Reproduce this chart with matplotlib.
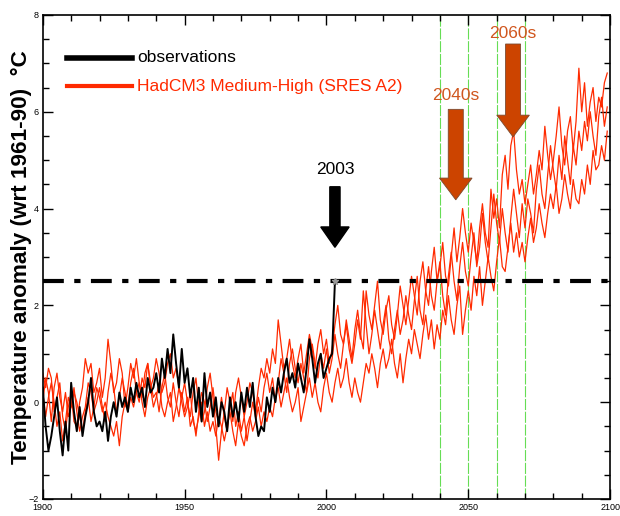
import matplotlib
matplotlib.use("Agg")
import matplotlib.pyplot as plt
from matplotlib.ticker import MultipleLocator

plt.rcParams['font.family'] = ['Liberation Sans', 'DejaVu Sans']

# observed annual anomalies 1900-2003
obs_years = list(range(1900, 2004))
obs_temp = [0.3, -0.5, -1.0, -0.7, -0.3, 0.1, -0.6, -1.1, -0.4, -1.0,
            0.4, -0.2, -0.6, -0.1, -0.7, -0.3, 0.0, 0.5, -0.2, -0.5,
            -0.4, -0.6, -0.2, -0.8, -0.3, 0.0, -0.3, 0.2, -0.1, 0.1,
            -0.2, 0.3, 0.0, 0.4, 0.1, 0.3, -0.1, 0.5, 0.2, 0.3,
            0.6, 0.2, 0.9, 0.5, 1.1, 0.6, 1.4, 0.8, 0.3, 1.1,
            0.4, 0.7, 0.1, 0.5, -0.2, 0.3, -0.4, 0.6, -0.1, 0.2,
            -0.3, 0.1, -0.5, 0.0, -0.2, -0.6, 0.1, -0.3, 0.0, -0.4,
            0.2, -0.2, 0.3, -0.1, 0.4, -0.3, -0.7, -0.5, -0.6, 0.1,
            -0.2, 0.3, 0.0, 0.5, 0.2, 0.6, 0.9, 0.4, 0.6, 0.3,
            0.8, 0.5, 0.2, 0.7, 1.3, 0.9, 0.4, 0.8, 1.0, 0.5,
            0.7, 0.9, 1.0, 2.5]

# HadCM3 ensemble members 1900-2099
model_years = list(range(1900, 2100))
model_a = [0.6, 0.3, 0.7, 0.5, -0.2, 0.1, 0.4, -0.3, -0.6, -0.1,
           0.2, -0.4, -0.5, 0.0, 0.3, 0.9, 0.6, 0.8, 0.2, 0.4,
           0.7, 0.1, 0.5, 1.3, 0.8, 0.2, 0.4, 0.9, 0.6, -0.1,
           0.3, 0.8, 0.5, 0.9, 0.4, 0.1, 0.6, 0.8, 0.3, 0.5,
           0.9, 0.6, 0.2, 0.4, 0.8, 1.0, 0.5, 0.7, 0.3, 0.1,
           0.4, 0.0, -0.3, 0.2, 0.5, -0.1, -0.4, -0.2, 0.3, 0.6,
           0.1, -0.5, -1.2, -0.6, -0.2, 0.3, 0.0, -0.4, 0.2, 0.5,
           0.1, -0.3, 0.0, 0.4, 0.2, -0.2, 0.3, 0.7, 0.5, 0.9,
           0.6, 1.1, 0.8, 1.7, 1.2, 0.7, 0.9, 1.3, 0.8, 0.5,
           0.9, 1.2, 0.6, 1.0, 1.4, 1.1, 0.7, 1.2, 1.5, 1.0,
           1.3, 0.8, 1.1, 1.6, 2.0, 1.4, 1.2, 1.7, 1.3, 0.9,
           1.5, 1.9, 1.4, 1.1, 2.3, 1.8, 1.5, 2.0, 2.5, 1.7,
           1.4, 1.9, 2.2, 1.6, 1.3, 1.8, 2.4, 2.0, 1.6, 2.1,
           2.6, 2.2, 1.8, 2.5, 2.9, 2.3, 2.0, 2.7, 3.2, 2.5,
           2.8, 3.3, 2.6, 2.4, 3.0, 3.6, 2.9, 3.4, 4.0, 3.5,
           3.1, 3.7, 3.3, 2.9, 3.6, 4.1, 3.5, 3.2, 4.4, 3.8,
           4.2, 3.6, 4.7, 5.1, 4.4, 5.3, 5.6, 4.8, 4.3, 4.6,
           4.1, 4.5, 4.9, 4.3, 4.7, 5.2, 4.8, 5.7, 5.1, 4.6,
           5.0, 5.5, 6.1, 5.3, 4.9, 5.6, 5.9, 5.2, 5.8, 6.9,
           6.0, 6.6, 5.7, 6.2, 6.5, 5.8, 6.3, 6.1, 6.6, 6.8]
model_b = [0.2, -0.3, 0.1, 0.4, 0.0, -0.5, -0.2, -0.8, -0.4, 0.1,
           -0.1, 0.3, -0.2, -0.6, -0.3, -0.1, 0.4, 0.2, -0.2, 0.0,
           0.3, -0.1, -0.4, 0.2, 0.6, 0.3, -0.2, 0.1, 0.5, 0.2,
           -0.1, 0.4, 0.7, 0.2, 0.0, 0.5, 0.3, 0.8, 0.4, 0.1,
           0.2, -0.2, 0.3, 0.6, 0.1, -0.1, 0.4, 0.0, -0.3, 0.2,
           -0.2, 0.1, -0.5, -0.3, -0.7, -0.2, 0.2, 0.0, -0.4, -0.1,
           0.3, -0.2, -0.4, 0.1, -0.3, -0.6, -0.1, 0.2, -0.5, -0.2,
           -0.6, -0.3, -0.8, -0.4, 0.0, -0.3, 0.1, -0.2, 0.3, 0.6,
           0.2, 0.5, 0.0, 0.4, 0.9, 0.6, 0.2, 0.8, 1.1, 0.7,
           0.4, 0.8, 0.5, 0.2, 0.9, 1.2, 0.8, 0.5, 1.0, 0.7,
           1.1, 0.6, 0.9, 1.4, 1.0, 0.7, 1.2, 1.6, 1.1, 0.8,
           1.2, 1.7, 1.3, 2.3, 1.6, 1.0, 1.4, 1.9, 1.5, 1.1,
           1.6, 2.0, 1.3, 1.0, 1.5, 1.9, 1.4, 1.7, 2.2, 1.8,
           1.5, 2.1, 2.6, 1.9, 1.6, 2.3, 2.8, 2.2, 1.9, 2.5,
           2.9, 2.2, 1.8, 2.6, 3.1, 2.5, 2.1, 2.8, 3.3, 2.7,
           2.4, 3.0, 3.5, 2.8, 3.2, 3.9, 3.3, 2.9, 3.6, 4.3,
           3.7, 3.3, 4.0, 3.5, 3.1, 3.8, 4.4, 3.9, 3.4, 4.1,
           3.6, 4.2, 3.9, 3.5, 4.4, 4.9, 4.3, 4.0, 4.7, 5.3,
           4.8, 4.4, 5.1, 4.6, 5.5, 5.0, 4.5, 5.3, 4.9, 5.6,
           5.2, 5.8, 5.4, 6.0, 5.5, 5.1, 5.9, 6.3, 5.7, 6.1]
model_c = [0.0, 0.5, 0.2, -0.4, 0.3, 0.6, 0.1, -0.2, 0.2, -0.3,
           -0.1, 0.2, 0.0, -0.3, -0.6, -0.2, 0.1, -0.4, -0.1, 0.3,
           0.1, -0.2, 0.0, -0.3, -0.5, -0.7, -0.4, -0.9, -0.3, 0.0,
           -0.2, 0.1, -0.1, 0.2, 0.4, 0.0, -0.3, 0.1, 0.3, -0.1,
           0.1, 0.4, -0.1, -0.3, 0.0, 0.2, -0.4, -0.1, 0.3, 0.0,
           -0.3, -0.1, 0.2, -0.4, -0.6, -0.3, 0.0, -0.5, -0.2, -0.6,
           -0.4, -0.7, -0.3, -0.5, -0.8, -0.5, -0.2, -0.6, -0.9, -0.4,
           -0.7, -0.9, -0.5, -0.3, -0.6, -0.4, -0.1, -0.5, -0.2, -0.4,
           -0.1, -0.3, 0.1, 0.3, -0.1, 0.2, 0.5, 0.1, -0.2, 0.0,
           0.3, -0.4, -0.1, 0.2, 0.5, 0.1, 0.4, 0.0, -0.2, 0.3,
           0.6, 0.2, 0.0, 0.4, 0.7, 0.3, 0.5, 0.9, 0.4, 0.1,
           0.5, 0.2, 0.0, 0.4, 0.8, 0.6, 1.0, 0.7, 0.3, 0.8,
           1.1, 0.7, 0.9, 1.3, 0.8, 0.5, 1.0, 0.4, 0.9, 1.3,
           1.0, 1.5, 1.2, 0.9, 1.4, 1.8, 1.3, 1.7, 1.1, 1.6,
           1.3, 1.9, 1.6, 2.2, 1.7, 1.4, 2.0, 2.4, 1.4, 1.9,
           2.3, 1.9, 2.6, 2.2, 2.8, 2.0, 2.5, 3.0, 2.6, 2.3,
           2.9, 3.4, 2.8, 2.7, 3.2, 3.7, 3.1, 3.5, 3.0, 3.3,
           2.9, 3.4, 3.8, 3.3, 3.6, 4.1, 3.7, 3.4, 3.9, 4.3,
           4.0, 4.5, 3.9, 4.2, 4.7, 4.3, 4.0, 4.6, 4.2, 4.1,
           4.6, 4.3, 4.9, 4.5, 5.2, 4.8, 4.9, 5.3, 5.0, 5.6]

threshold = 2.5
decade_lines = [2040, 2050, 2060, 2070]

red = '#ff2a00'
brown = '#cc4400'

fig = plt.figure(figsize=(6.2, 5.16), dpi=100)
ax = fig.add_axes([0.069, 0.033, 0.915, 0.938])

for yr in decade_lines:
    ax.axvline(yr, color='#66dd55', lw=0.8, dashes=(10, 1.5), zorder=1)

ax.plot(model_years, model_c, color=red, lw=0.9, zorder=2)
ax.plot(model_years, model_b, color=red, lw=0.9, zorder=2)
ax.plot(model_years, model_a, color=red, lw=0.9, zorder=2)
ax.plot(obs_years, obs_temp, color='black', lw=1.4, zorder=3)

ax.axhline(threshold, color='black', lw=3, dashes=(5, 2.5, 1.5, 2.5), zorder=4)
ax.plot([2003], [threshold], marker='*', ms=5, color='#999999', zorder=5)

# legend drawn by hand, like the original
ax.plot([1908.5, 1931.5], [7.12, 7.12], color='black', lw=4, zorder=5)
ax.text(1933.3, 7.12, 'observations', fontsize=12.5, va='center', color='black')
ax.plot([1908.5, 1931.5], [6.53, 6.53], color=red, lw=3, zorder=5)
ax.text(1933.3, 6.53, 'HadCM3 Medium-High (SRES A2)', fontsize=12.5, va='center', color=red)

# arrows
ax.arrow(2003, 4.45, 0, -1.25, width=3.6, head_width=10, head_length=0.42,
         length_includes_head=True, fc='black', ec='black', zorder=6)
ax.text(2003, 4.8, '2003', fontsize=12.5, ha='center', va='center', color='black')

ax.arrow(2045.6, 6.05, 0, -1.87, width=5.3, head_width=11.5, head_length=0.45,
         length_includes_head=True, fc=brown, ec='#7a4a30', lw=0.6, zorder=6)
ax.text(2045.6, 6.33, '2040s', fontsize=12.5, ha='center', va='center', color='#d0561e')

ax.arrow(2065.8, 7.4, 0, -1.92, width=5.3, head_width=11.5, head_length=0.45,
         length_includes_head=True, fc=brown, ec='#7a4a30', lw=0.6, zorder=6)
ax.text(2065.8, 7.62, '2060s', fontsize=12.5, ha='center', va='center', color='#d0561e')

ax.set_xlim(1900, 2100)
ax.set_ylim(-2, 8)
ax.xaxis.set_major_locator(MultipleLocator(50))
ax.xaxis.set_minor_locator(MultipleLocator(10))
ax.yaxis.set_major_locator(MultipleLocator(2))
ax.yaxis.set_minor_locator(MultipleLocator(0.5))
ax.tick_params(which='both', direction='in', top=True, right=True,
               labelsize=6.5, pad=3)
ax.tick_params(which='major', length=7, width=1)
ax.tick_params(which='minor', length=4.5, width=1)
for s in ax.spines.values():
    s.set_linewidth(1.2)

ax.set_ylabel('Temperature anomaly (wrt 1961-90)  \u00b0C', fontsize=16.2,
              fontweight='bold')
ax.yaxis.set_label_coords(-0.019, 0.5)

fig.savefig('out.png', dpi=100)
